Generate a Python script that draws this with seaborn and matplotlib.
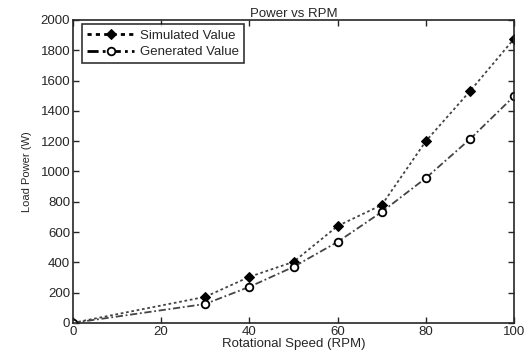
import matplotlib
matplotlib.use("Agg")
import matplotlib.pyplot as plt
import seaborn as sns
import pandas as pd

rpm = [0, 30, 40, 50, 60, 70, 80, 90, 100]
simulated = [0, 172, 304, 403, 640, 779, 1201, 1531, 1877]
generated = [0, 125, 238, 370, 535, 733, 957, 1214, 1498]

sns.set_style("ticks")
plt.rcParams['font.family'] = ['Liberation Sans', 'DejaVu Sans']
plt.rcParams['xtick.direction'] = 'in'
plt.rcParams['ytick.direction'] = 'in'

df = pd.DataFrame({"rpm": rpm, "Simulated Value": simulated, "Generated Value": generated})

fig = plt.figure(figsize=(5.28, 3.56), dpi=100)
ax = fig.add_axes([0.138, 0.093, 0.836, 0.851])

sns.lineplot(data=df, x="rpm", y="Simulated Value", ax=ax, color="#444444",
             linestyle=(0, (1.5, 1.5)), linewidth=1.3, marker="D", markersize=5,
             markerfacecolor="black", markeredgecolor="black", label="Simulated Value")
sns.lineplot(data=df, x="rpm", y="Generated Value", ax=ax, color="#444444",
             linestyle=(0, (4, 1.5, 1, 1.5)), linewidth=1.3, marker="o", markersize=5.5,
             markerfacecolor="white", markeredgecolor="black", markeredgewidth=1.3,
             label="Generated Value")

ax.set_xlim(0, 100)
ax.set_ylim(0, 2000)
ax.set_xticks(range(0, 101, 20))
ax.set_yticks(range(0, 2001, 200))
ax.tick_params(labelsize=9.5, top=True, right=True, length=4, width=1, pad=2)
for s in ax.spines.values():
    s.set_linewidth(1.2)
    s.set_visible(True)
ax.set_xlabel("Rotational Speed (RPM)", fontsize=9.5, labelpad=0)
ax.set_ylabel("Load Power (W)", fontsize=8, labelpad=6)
ax.set_title("Power vs RPM", fontsize=9.5, pad=2)

leg = ax.legend(loc="upper left", fontsize=9.5, frameon=True, fancybox=False,
                edgecolor="black", handlelength=3.6, handletextpad=0.4,
                borderpad=0.4, labelspacing=0.3, borderaxespad=0,
                bbox_to_anchor=(0.02, 0.985))
leg.get_frame().set_linewidth(1.2)
for h in leg.get_lines():
    h.set_color("black")
    h.set_linewidth(2)

fig.savefig("out.png", dpi=100)
